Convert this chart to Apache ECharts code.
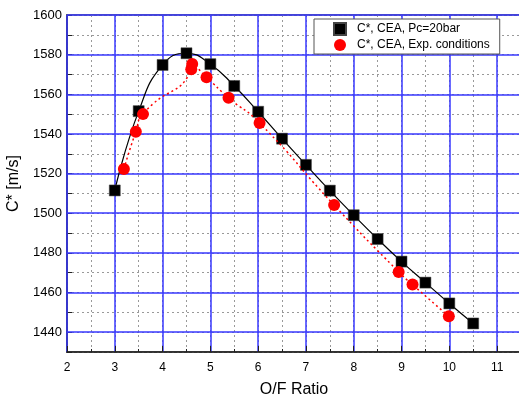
<!DOCTYPE html>
<html>
<head>
    <meta charset="utf-8">
    <title>C* vs O/F</title>
    <script src="https://cdn.jsdelivr.net/npm/echarts@6/dist/echarts.min.js"></script>
    <style>
        body { margin: 0; background: #fff; }
    </style>
</head>
<body>
<div id="main" style="width: 519px;height:400px;"></div>
<script type="text/javascript">
    // data
    const ofCea = [3, 3.5, 4, 4.5, 5, 5.5, 6, 6.5, 7, 7.5, 8, 8.5, 9, 9.5, 10, 10.5];
    const cCea = [1511.5, 1551.5, 1574.8, 1580.7, 1575.2, 1564.2, 1551.2, 1537.6, 1524.4, 1511.4, 1499, 1487, 1475.6, 1465, 1454.5, 1444.4];
    const ofExp = [3.19, 3.44, 3.59, 4.6, 4.62, 4.92, 5.38, 6.03, 7.59, 8.94, 9.23, 9.99];
    const cExp = [1522.3, 1541.1, 1550, 1572.6, 1575.3, 1568.6, 1558.3, 1545.5, 1504.1, 1470.4, 1464, 1448];
    const seriesNames = ['C*, CEA, Pc=20bar', 'C*, CEA, Exp. conditions'];

    const font = 'Arial, "Liberation Sans", sans-serif';
    const blue = '#3838ff';

    function pairs(xs, ys) {
        return xs.map((x, i) => [x, ys[i]]);
    }

    let myChart = echarts.init(document.getElementById('main'));
    myChart.setOption({
        animation: false,
        grid: {
            left: 67, top: 15, right: -2, bottom: 48,
            outerBoundsMode: 'none',
            containLabel: false,
            show: true, borderColor: '#333', borderWidth: 1.5, backgroundColor: '#fff'
        },
        legend: {
            orient: 'vertical',
            left: 314, top: 19,
            padding: [3, 10, 3, 19],
            itemGap: 3,
            itemWidth: 12, itemHeight: 12,
            backgroundColor: '#fff',
            borderColor: '#555', borderWidth: 1,
            textStyle: { fontFamily: font, fontSize: 12, color: '#000', padding: [0, 0, 0, 6] },
            data: [
                { name: seriesNames[0], icon: 'rect' },
                { name: seriesNames[1], icon: 'circle' }
            ]
        },
        xAxis: [{
            type: 'value', min: 2, max: 11.5, interval: 1,
            position: 'bottom',
            name: 'O/F Ratio', nameLocation: 'middle', nameGap: 30,
            nameTextStyle: { fontFamily: font, fontSize: 16, color: '#000' },
            axisLine: { lineStyle: { color: '#222', width: 1.5 } },
            axisTick: { inside: true, length: 6, lineStyle: { color: '#222' } },
            axisLabel: {
                fontFamily: font, fontSize: 12, color: '#000', margin: 10,
                formatter: v => (Number.isInteger(v) ? String(v) : '')
            },
            splitLine: { show: true, lineStyle: { color: blue, width: 1.5 } },
            z: 3
        }, {
            type: 'value', min: 2, max: 11.5, interval: 0.5,
            position: 'bottom',
            axisLine: { show: false },
            axisTick: { inside: true, length: 3, lineStyle: { color: '#222' } },
            axisLabel: { show: false },
            splitLine: { show: true, lineStyle: { color: '#999', type: [2, 3], width: 1 } },
            z: 1
        }],
        yAxis: [{
            type: 'value', min: 1430, max: 1600, interval: 10,
            name: 'C* [m/s]', nameLocation: 'middle', nameGap: 45,
            nameTextStyle: { fontFamily: font, fontSize: 16, color: '#000' },
            axisLine: { lineStyle: { color: '#222', width: 1.5 } },
            axisTick: { inside: true, length: 5, lineStyle: { color: '#222' } },
            axisLabel: {
                fontFamily: font, fontSize: 13, color: '#000', margin: 5,
                formatter: v => (v % 20 === 0 ? String(v) : '')
            },
            splitLine: { show: true, lineStyle: { color: '#999', type: [2, 3], width: 1 } },
            z: 1
        }, {
            type: 'value', min: 1430, max: 1600, interval: 10,
            position: 'left',
            axisLine: { show: false },
            axisTick: { show: false },
            axisLabel: { show: false },
            splitLine: { show: true, lineStyle: { color: ['rgba(0,0,0,0)', blue], width: 1.5 } },
            z: 2
        }],
        series: [{
            name: seriesNames[0],
            type: 'line',
            data: pairs(ofCea, cCea),
            smooth: 0.5,
            symbol: 'rect',
            symbolSize: 11,
            itemStyle: { color: '#000', borderColor: '#444', borderWidth: 0.5 },
            lineStyle: { color: '#000', width: 1.2 },
            z: 5
        }, {
            name: seriesNames[1],
            type: 'line',
            data: pairs(ofExp, cExp),
            smooth: 0.6,
            symbol: 'circle',
            symbolSize: 12,
            itemStyle: { color: '#ff0000' },
            lineStyle: { color: '#ff0000', width: 1.5, type: [2, 3] },
            z: 6
        }]
    });
</script>
</body>
</html>
